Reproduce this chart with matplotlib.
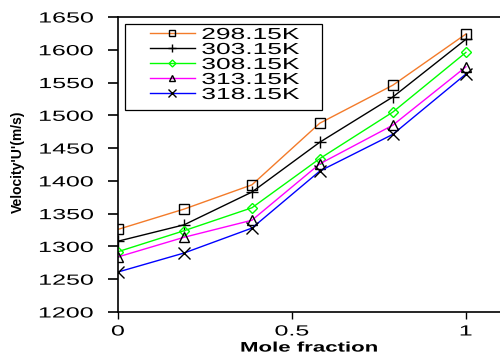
import matplotlib
matplotlib.use("Agg")
import matplotlib.pyplot as plt
from matplotlib.patheffects import AbstractPathEffect
from matplotlib.transforms import Affine2D
from matplotlib.patches import Rectangle

plt.rcParams['font.family'] = ['Liberation Sans', 'DejaVu Sans']

mole_fraction = [0, 0.19, 0.385, 0.58, 0.79, 1.0]
temps = ["298.15K", "303.15K", "308.15K", "313.15K", "318.15K"]
u_298 = [1326, 1357, 1394, 1488, 1546, 1624]
u_303 = [1308, 1333, 1383, 1459, 1528, 1616]
u_308 = [1292, 1324, 1359, 1434, 1505, 1596]
u_313 = [1284, 1314, 1340, 1426, 1485, 1574]
u_318 = [1261, 1290, 1328, 1415, 1471, 1563]

series = [u_298, u_303, u_308, u_313, u_318]
colors = ["#f37b2a", "#000000", "#00ff00", "#ff00ff", "#0000ff"]
markers = ["s", "+", "D", "^", "x"]
edge = ["black", "black", "#00ff00", "black", "black"]
msizes = [6.5, 8, 5, 7, 8]


class HStretch(AbstractPathEffect):
    # widen text glyphs horizontally, the old excel export looks stretched
    def __init__(self, sx, align=0.0):
        super().__init__((0, 0))
        self.sx = sx
        self.align = align

    def draw_path(self, renderer, gc, tpath, affine, rgbFace=None):
        ext = tpath.get_extents()
        x0, w = ext.x0, ext.width
        t = (Affine2D().translate(-x0, 0).scale(self.sx, 1)
             .translate(x0 - (self.sx - 1) * w * self.align, 0))
        renderer.draw_path(gc, tpath, t + affine, rgbFace)


fig = plt.figure(figsize=(5, 3.58), dpi=100)
ax = fig.add_axes([118/500, 1 - 312/358, 382/500, 295/358])

for vals, lab, c, m, ec, ms in zip(series, temps, colors, markers, edge, msizes):
    ax.plot(mole_fraction, vals, color=c, lw=1.0, marker=m, ms=ms,
            mfc="none", mec=ec, mew=1.0, label=lab)

ax.set_xlim(0, 1.098)
ax.set_ylim(1200, 1650)
ax.set_xticks([0, 0.5, 1])
ax.set_xticklabels(["0", "0.5", "1"])
ax.set_yticks(range(1200, 1651, 50))

ax.spines['right'].set_visible(False)
for s in ['left', 'bottom', 'top']:
    ax.spines[s].set_linewidth(1.2)
ax.tick_params(axis='y', direction='out', length=7, width=1.2, labelsize=10.6, pad=10.5)
ax.tick_params(axis='x', direction='out', length=5, width=1.0, labelsize=10.6, pad=4)

for t in ax.get_yticklabels():
    t.set_path_effects([HStretch(1.7, align=1.0)])
for t in ax.get_xticklabels():
    t.set_path_effects([HStretch(1.7, align=0.5)])

xl = ax.set_xlabel("Mole fraction", fontsize=10, fontweight='bold', labelpad=1.5)
xl.set_path_effects([HStretch(1.6, align=0.5)])
ax.set_ylabel("Velocity'U'(m/s)", fontsize=10, fontweight='bold')
ax.yaxis.set_label_coords(-0.2435, 0.51)

leg = ax.legend(loc='upper left', bbox_to_anchor=(150/500, 1 - 27/358),
                bbox_transform=fig.transFigure, borderaxespad=0, borderpad=0,
                fontsize=11.5, frameon=False,
                handlelength=2.8, handletextpad=0.44, labelspacing=0.0,
                markerscale=0.7)
for t in leg.get_texts():
    t.set_path_effects([HStretch(1.65)])
fig.patches.append(Rectangle((125/500, 1 - 110/358), 197/500, 86/358,
                             transform=fig.transFigure, fill=False,
                             edgecolor='black', lw=0.9))

fig.savefig("out.png", dpi=100)
